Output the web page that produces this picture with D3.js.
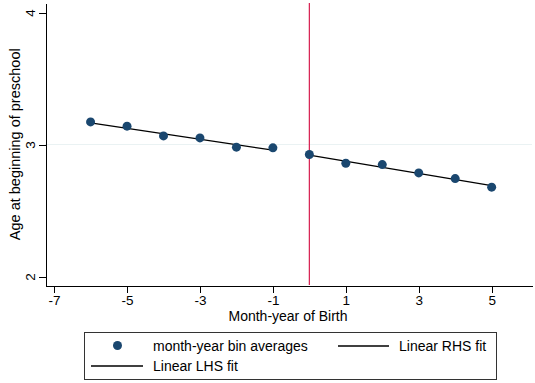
<!DOCTYPE html>
<html lang="en">
<head>
  <meta charset="UTF-8">
  <title>Age at beginning of preschool</title>
  <style>
    body { margin: 0; background: #fff; }
    svg text { font-family: "Liberation Sans", Arial, sans-serif; fill: #000; }
    .axis path, .axis line { stroke: #000; shape-rendering: crispEdges; }
  </style>
</head>
<body>
  <div id="chart"></div>
  <script src="https://d3js.org/d3.v7.min.js"></script>
  <script>
    // month-year bins and their averages
    const months = [-6, -5, -4, -3, -2, -1, 0, 1, 2, 3, 4, 5];
    const ages = [3.171, 3.139, 3.065, 3.05, 2.98, 2.975, 2.924, 2.858, 2.848, 2.785, 2.742, 2.677];
    // fitted lines, end points
    const lhsX = [-6, -1];
    const lhsY = [3.164, 2.957];
    const rhsX = [0, 5];
    const rhsY = [2.919, 2.689];
    const xTicks = [-7, -5, -3, -1, 1, 3, 5];
    const yTicks = [2, 3, 4];
    const cutoff = 0;

    const W = 535, H = 383;
    const svg = d3.select('#chart').append('svg')
      .attr('width', W).attr('height', H);

    const x = d3.scaleLinear().domain([-7.25, 6.12]).range([45, 532.5]);
    const y = d3.scaleLinear().domain([1.932, 4.072]).range([285.5, 3]);

    // light grid line at 3
    svg.append('line')
      .attr('x1', 45).attr('x2', 532)
      .attr('y1', y(3)).attr('y2', y(3))
      .attr('stroke', '#eaf2f3').attr('stroke-width', 1);

    // axes
    const xAxis = svg.append('g')
      .attr('class', 'axis')
      .attr('transform', 'translate(0,285.5)')
      .call(d3.axisBottom(x).tickValues(xTicks).tickSize(7).tickSizeOuter(0)
        .tickFormat(d => String(d)));
    xAxis.selectAll('text')
      .attr('dy', null).attr('y', 19.5)
      .style('font-size', '13.5px').style('fill', '#000');

    const yAxis = svg.append('g')
      .attr('class', 'axis')
      .attr('transform', 'translate(45.5,0)')
      .call(d3.axisLeft(y).tickValues(yTicks).tickSize(7).tickSizeOuter(0)
        .tickFormat(d => String(d)));
    yAxis.selectAll('text')
      .attr('x', null).attr('y', 0).attr('dy', null)
      .attr('text-anchor', 'middle')
      .attr('transform', 'translate(-10.5,0) rotate(-90)')
      .style('font-size', '13.5px').style('fill', '#000');

    // axis titles
    svg.append('text')
      .attr('x', 288).attr('y', 321)
      .attr('text-anchor', 'middle')
      .style('font-size', '14px')
      .text('Month-year of Birth');
    svg.append('text')
      .attr('transform', 'translate(20,' + ((3 + 285.5) / 2) + ') rotate(-90)')
      .attr('text-anchor', 'middle')
      .style('font-size', '14.5px')
      .text('Age at beginning of preschool');

    // cutoff line
    svg.append('line')
      .attr('x1', x(cutoff)).attr('x2', x(cutoff))
      .attr('y1', 3).attr('y2', 285)
      .attr('stroke', '#d61c4e').attr('stroke-width', 1.2);

    // fit lines
    const line = d3.line().x(d => x(d[0])).y(d => y(d[1]));
    svg.append('path')
      .datum(d3.zip(lhsX, lhsY))
      .attr('d', line).attr('fill', 'none')
      .attr('stroke', '#000').attr('stroke-width', 1.3);
    svg.append('path')
      .datum(d3.zip(rhsX, rhsY))
      .attr('d', line).attr('fill', 'none')
      .attr('stroke', '#000').attr('stroke-width', 1.3);

    // points
    svg.selectAll('circle.pt')
      .data(d3.zip(months, ages))
      .enter().append('circle')
      .attr('class', 'pt')
      .attr('cx', d => x(d[0]))
      .attr('cy', d => y(d[1]))
      .attr('r', 4.5)
      .attr('fill', '#1a476f');

    // legend
    const lg = svg.append('g');
    lg.append('rect')
      .attr('x', 84.5).attr('y', 332.5)
      .attr('width', 412).attr('height', 47)
      .attr('fill', '#fff').attr('stroke', '#333').attr('stroke-width', 1);
    lg.append('circle')
      .attr('cx', 117.5).attr('cy', 345.5).attr('r', 4.5)
      .attr('fill', '#1a476f');
    lg.append('text').attr('x', 153).attr('y', 351)
      .style('font-size', '14px').text('month-year bin averages');
    lg.append('line')
      .attr('x1', 338).attr('x2', 389).attr('y1', 346).attr('y2', 346)
      .attr('stroke', '#000').attr('stroke-width', 1.3);
    lg.append('text').attr('x', 399).attr('y', 351)
      .style('font-size', '14px').text('Linear RHS fit');
    lg.append('line')
      .attr('x1', 91).attr('x2', 143).attr('y1', 366).attr('y2', 366)
      .attr('stroke', '#000').attr('stroke-width', 1.3);
    lg.append('text').attr('x', 153).attr('y', 371)
      .style('font-size', '14px').text('Linear LHS fit');
  </script>
</body>
</html>
